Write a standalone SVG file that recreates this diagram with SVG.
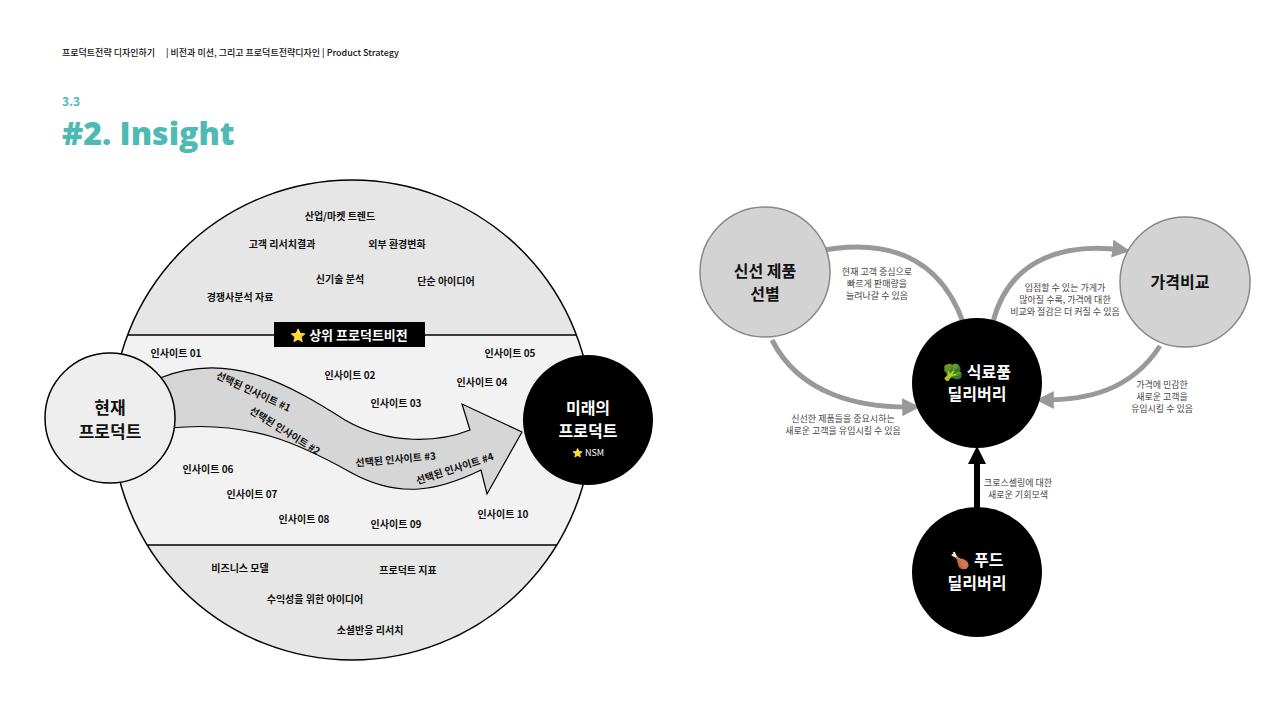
<svg xmlns="http://www.w3.org/2000/svg" width="1280" height="716" viewBox="0 0 1280 716">
<style>
text{font-family:"Noto Sans CJK KR","Noto Sans",sans-serif;font-weight:700;fill:#111}
.s{font-size:10px}
.m{font-size:9px;font-weight:400;fill:#444;text-anchor:middle}
.c{text-anchor:middle}
.g{fill:none;stroke:#999;stroke-width:5}
</style>
<defs>
<clipPath id="cp"><circle cx="352" cy="420" r="240"/></clipPath>
<marker id="ah" viewBox="0 0 10 10" refX="6" refY="5" markerWidth="3.6" markerHeight="3.6" orient="auto"><path d="M0,0 L10,5 L0,10 Z" fill="#999"/></marker>
<marker id="bh" viewBox="0 0 10 10" refX="5" refY="5" markerWidth="3" markerHeight="3" orient="auto"><path d="M0,0 L10,5 L0,10 Z" fill="#000"/></marker>
</defs>
<rect width="1280" height="716" fill="#fff"/>
<text x="62" y="56" style="font-size:9px;font-weight:500">프로덕트전략 디자인하기</text>
<text x="166" y="56" style="font-size:9px;font-weight:500">|  비전과 미션, 그리고 프로덕트전략디자인 | Product Strategy</text>
<text x="62" y="106" style="font-size:12px;fill:#4fb9b4">3.3</text>
<text x="62" y="145" style="font-size:32px;fill:#4fb9b4;font-family:'Open Sans','Noto Sans',sans-serif;font-weight:800">#2. Insight</text>
<g id="big">
<g clip-path="url(#cp)">
<rect x="100" y="170" width="510" height="500" fill="#e6e6e6"/>
<rect x="100" y="335" width="510" height="210" fill="#f2f2f2"/>
<line x1="100" y1="335" x2="610" y2="335" stroke="#000" stroke-width="1.5"/>
<line x1="100" y1="545" x2="610" y2="545" stroke="#000" stroke-width="1.5"/>
</g>
<circle cx="352" cy="420" r="240" fill="none" stroke="#000" stroke-width="1.5"/>
<text class="s c" x="340" y="220">산업/마켓 트렌드</text>
<text class="s c" x="282" y="248">고객 리서치결과</text>
<text class="s c" x="397" y="248">외부 환경변화</text>
<text class="s c" x="340" y="283">신기술 분석</text>
<text class="s c" x="446" y="285">단순 아이디어</text>
<text class="s c" x="240" y="301">경쟁사분석 자료</text>
<rect x="274" y="322" width="151" height="25" fill="#000"/>
<text x="349" y="340" class="c" style="font-size:13px;fill:#fff">⭐ 상위 프로덕트비전</text>
<text class="s c" x="176" y="357">인사이트 01</text>
<text class="s c" x="510" y="357">인사이트 05</text>
<text class="s c" x="350" y="379">인사이트 02</text>
<text class="s c" x="482" y="386">인사이트 04</text>
<text class="s c" x="396" y="407">인사이트 03</text>
<text class="s c" x="208" y="473">인사이트 06</text>
<text class="s c" x="252" y="498">인사이트 07</text>
<text class="s c" x="304" y="523">인사이트 08</text>
<text class="s c" x="396" y="528">인사이트 09</text>
<text class="s c" x="503" y="518">인사이트 10</text>
<text class="s c" x="240" y="572">비즈니스 모델</text>
<text class="s c" x="408" y="574">프로덕트 지표</text>
<text class="s c" x="315" y="603">수익성을 위한 아이디어</text>
<text class="s c" x="370" y="634">소셜반응 리서치</text>
</g>
<g id="flow">
<path d="M160,378 C230,350 290,385 345,420 C390,446 440,442 470,430 L462,404 L522,432 L487,494 L481,470 C440,490 400,500 350,472 C300,444 250,420 170,428 Z" fill="#d6d6d6" stroke="#000" stroke-width="1.2"/>
<text class="s c" transform="translate(252,395) rotate(25)">선택된 인사이트 #1</text>
<text class="s c" transform="translate(283,434) rotate(32)">선택된 인사이트 #2</text>
<text class="s c" transform="translate(396,463) rotate(-5)">선택된 인사이트 #3</text>
<text class="s c" transform="translate(456,472) rotate(-18)">선택된 인사이트 #4</text>
</g>
<g id="cur"><circle cx="110" cy="418" r="65" fill="#eeeeee" stroke="#000" stroke-width="1.5"/>
<text class="c" x="110" y="414" style="font-size:17px">현재</text><text class="c" x="110" y="438" style="font-size:17px">프로덕트</text></g>
<g id="fut"><circle cx="588" cy="420" r="65" fill="#000"/>
<text class="c" x="588" y="414" style="font-size:16px;fill:#fff">미래의</text><text class="c" x="588" y="437" style="font-size:16px;fill:#fff">프로덕트</text>
<text class="c" x="588" y="456" style="font-size:9px;font-weight:400;fill:#fff">⭐ NSM</text></g>
<g id="connectors">
<path class="g" d="M963,322 C935,245 870,240 814,252" marker-end="url(#ah)"/>
<path class="g" d="M993,322 C1010,255 1070,243 1123,250" marker-end="url(#ah)"/>
<path class="g" d="M772,340 C800,395 860,408 913,407" marker-end="url(#ah)"/>
<path class="g" d="M1160,346 C1130,392 1085,400 1043,400" marker-end="url(#ah)"/>
<line x1="977" y1="508" x2="977" y2="455" stroke="#000" stroke-width="6" marker-end="url(#bh)"/>
<text class="m" x="877" y="275">현재 고객 중심으로</text><text class="m" x="877" y="287">빠르게 판매량을</text><text class="m" x="877" y="299">늘려나갈 수 있음</text>
<text class="m" x="1065" y="291">입점할 수 있는 가게가</text><text class="m" x="1065" y="303">많아질 수록, 가격에 대한</text><text class="m" x="1065" y="315">비교와 절감은 더 커질 수 있음</text>
<text class="m" x="843" y="422">신선한 제품들을 중요시하는</text><text class="m" x="843" y="434">새로운 고객을 유입시킬 수 있음</text>
<text class="m" x="1162" y="388">가격에 민감한</text><text class="m" x="1162" y="400">새로운 고객을</text><text class="m" x="1162" y="412">유입시킬 수 있음</text>
<text class="m" x="1018" y="486">크로스셀링에 대한</text><text class="m" x="1018" y="498">새로운 기회모색</text>
</g>
<g id="fresh"><circle cx="765" cy="272" r="65" fill="#d3d3d3" stroke="#888" stroke-width="1.5"/>
<text class="c" x="765" y="277" style="font-size:16px">신선 제품</text><text class="c" x="765" y="300" style="font-size:16px">선별</text></g>
<g id="price"><circle cx="1185" cy="282" r="65" fill="#d3d3d3" stroke="#888" stroke-width="1.5"/>
<text class="c" x="1180" y="288" style="font-size:16px">가격비교</text></g>
<g id="grocery"><circle cx="977" cy="383" r="65" fill="#000"/>
<text class="c" x="977" y="378" style="font-size:16px;fill:#fff">🥦 식료품</text><text class="c" x="977" y="400" style="font-size:16px;fill:#fff">딜리버리</text></g>
<g id="food"><circle cx="977" cy="572" r="65" fill="#000"/>
<text class="c" x="977" y="566" style="font-size:16px;fill:#fff">🍗 푸드</text><text class="c" x="977" y="589" style="font-size:16px;fill:#fff">딜리버리</text></g>
</svg>
